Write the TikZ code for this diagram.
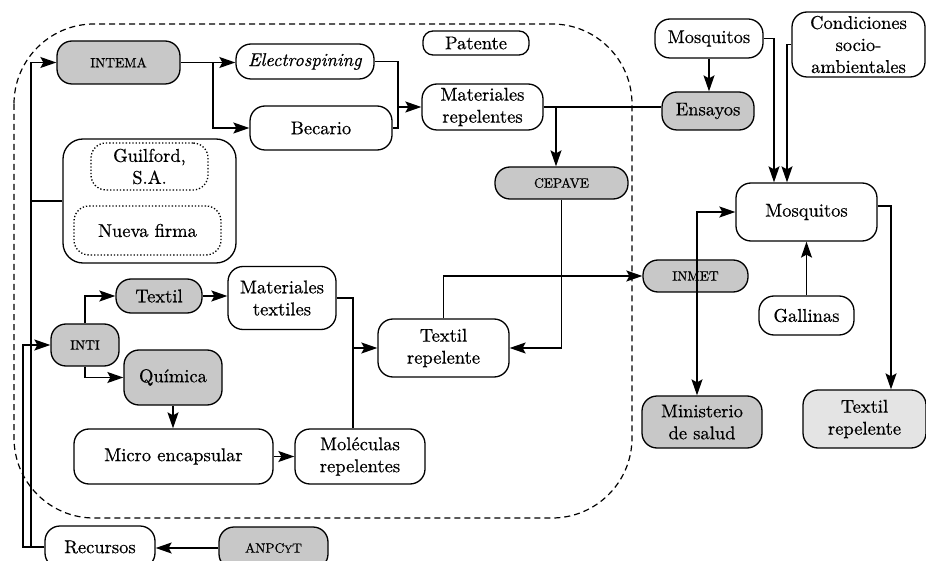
\documentclass[tikz,border=0pt]{standalone}
\usepackage{fontspec}
\setmainfont{lmroman10-regular}[Extension=.otf, ItalicFont=lmroman10-italic, BoldFont=lmroman10-bold,
  UprightFeatures={FakeBold=0.6}, ItalicFeatures={FakeBold=0.6}]
\usetikzlibrary{arrows.meta}
\definecolor{boxgray}{RGB}{200,200,200}
\definecolor{boxlight}{RGB}{228,228,228}
\newcommand{\acrfont}{\fontsize{13.5}{16}\selectfont}
\newcommand{\smallcapy}{{\fontsize{10.5}{13}\selectfont Y}}
\tikzset{
  box/.style={draw, rounded corners=15pt, line width=1.3pt, inner sep=0pt,
    align=center, font=\fontsize{18.5}{22}\selectfont},
  gbox/.style={box, fill=boxgray},
  lbox/.style={box, fill=boxlight},
  dbox/.style={box, dotted},
  sz/.style 2 args={minimum width=#1pt, minimum height=#2pt},
  conn/.style={line width=1.3pt},
  arr/.style={conn, -{Stealth[length=16pt,width=11pt,inset=3pt]}},
  darr/.style={conn, {Stealth[length=16pt,width=11pt,inset=3pt]}-{Stealth[length=16pt,width=11pt,inset=3pt]}},
  region/.style={line width=1.2pt, dash pattern=on 6pt off 4pt, rounded corners=80pt}
}
\begin{document}
\begin{tikzpicture}[x=1pt, y=-1pt]
\clip (0,0) rectangle (926,561);

% dashed region
\draw[region] (14,24) rectangle (632,518);

% junction abscissae
\coordinate (jA) at (213,0);
\coordinate (jB) at (398,0);
\coordinate (jC) at (556,0);
\coordinate (jD) at (774,0);
\coordinate (jE) at (787,0);
\coordinate (jF) at (353,0);
\coordinate (jH) at (23,0);
\coordinate (jI) at (31,0);
\coordinate (jJ) at (697,0);
\coordinate (jK) at (891,0);

% nodes inside the region
\node[gbox, sz={123}{43}] (intema) at (118.5,62.5) {\acrfont INTEMA};
\node[box, sz={138}{35}] (electro) at (305,61.5) {\textit{Electrospining}};
\node[box, sz={142}{44}] (becario) at (321,128) {Becario};
\node[box, sz={106}{24}, rounded corners=10pt] (patente) at (476,43) {Patente};
\node[box, sz={121}{46}] (matrep) at (482.5,107) {Materiales\\repelentes};
\node[gbox, sz={133}{32}] (cepave) at (561.5,183) {\acrfont CEPAVE};

\node[box, sz={173}{124}, rounded corners=20pt] (group) at (149.5,201) {};
\node[dbox, sz={117}{47}] (guilford) at (149.5,166.5) {Guilford,\\S.A.};
\node[dbox, sz={147}{49}] (nueva) at (147.5,230.5) {Nueva firma};

\node[gbox, sz={86}{34}] (textil) at (159,296) {Textil};
\node[box, sz={108}{63}] (mattex) at (282,298) {Materiales\\textiles};
\node[gbox, sz={68}{42}] (inti) at (85,345) {\acrfont INTI};
\node[gbox, sz={98}{55}] (quimica) at (173,377.5) {Química};
\node[box, sz={199}{55}] (micro) at (173.5,456.5) {Micro encapsular};
\node[box, sz={130}{55}] (molec) at (360,456.5) {Moléculas\\repelentes};
\node[box, sz={131}{58}] (texrep) at (443.5,348) {Textil\\repelente};

% nodes outside the region
\node[box, sz={108}{39}] (mosqa) at (709,38.5) {Mosquitos};
\node[gbox, sz={92}{38}] (ensayos) at (708,111) {Ensayos};
\node[box, sz={133}{65}] (cond) at (858.5,44.5) {Condiciones\\socio-\\ambientales};
\node[gbox, sz={105}{32}] (inmet) at (695.5,276) {\acrfont INMET};
\node[box, sz={141}{58}] (mosqb) at (806.5,212) {Mosquitos};
\node[box, sz={95}{39}] (gallinas) at (806.5,315.5) {Gallinas};
\node[gbox, sz={120}{52}] (minist) at (702,422) {Ministerio\\de salud};
\node[lbox, sz={123}{58}] (texrepb) at (864.5,419) {Textil\\repelente};
\node[box, sz={110}{42}] (recursos) at (100,547) {Recursos};
\node[gbox, sz={109}{42}] (anpcyt) at (273.5,548) {\acrfont ANPC\smallcapy T};

% connectors: INTEMA branch
\draw[arr] (intema.east) -- (intema.east -| electro.west);
\draw[arr] (intema.east -| jA) |- (becario.west);
\draw[conn] (electro.east) -| (jB |- becario.east) -- (becario.east);
\draw[arr] (jB |- matrep.west) -- (matrep.west);
\draw[conn] (matrep.east) -- (matrep.east -| ensayos.west);
\draw[arr] (jC |- matrep.east) -- (jC |- cepave.north);

% mosquito tests and field conditions
\draw[arr] (mosqa.south) -- (mosqa.south |- ensayos.north);
\draw[arr] (mosqa.east) -| (jD |- mosqb.north);
\draw[arr] (cond.west) -| (jE |- mosqb.north);
\draw[arr] (gallinas.north) -- (mosqb.south);
\draw[arr] ([yshift=6pt]mosqb.east) -| (jK |- texrepb.north);
\draw[darr] (jJ |- minist.north) |- (mosqb.west);

% CEPAVE and repellent textile
\draw[arr] (cepave.south) |- (texrep.east);
\draw[arr] (texrep.north) |- (inmet.west);

% INTI branch
\draw[arr] (inti.north) |- (textil.west);
\draw[arr] (inti.south) |- (quimica.west);
\draw[arr] (textil.east) -- (textil.east -| mattex.west);
\draw[arr] (quimica.south) -- (quimica.south |- micro.north);
\draw[arr] (micro.east) -- (molec.west);
\draw[conn] (mattex.east) -| (jF |- molec.north);
\draw[arr] (jF |- texrep.west) -- (texrep.west);

% funding
\draw[arr] (anpcyt.west) -- (anpcyt.west -| recursos.east);
\draw[arr] (recursos.west) -| (jI |- intema.west) -- (intema.west);
\draw[arr] (recursos.west) -| (jH |- inti.west) -- (inti.west);
\draw[conn] (jI |- group.west) -- (group.west);
\end{tikzpicture}
\end{document}
